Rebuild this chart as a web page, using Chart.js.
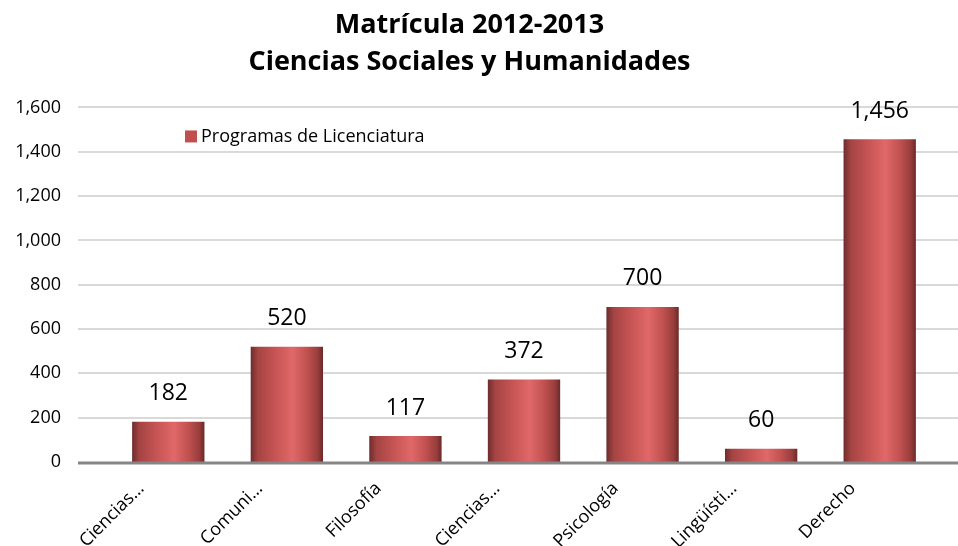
<!DOCTYPE html>
<html>
<head>
<meta charset="utf-8">
<script src="https://cdn.jsdelivr.net/npm/chart.js@4/dist/chart.umd.min.js"></script>
<style>
html, body { margin: 0; padding: 0; background: #fff; }
#wrap { width: 958px; height: 546px; position: relative; }
</style>
</head>
<body>
<div id="wrap"><canvas id="chart"></canvas></div>
<script>
const titleLines = ['Matrícula 2012-2013', 'Ciencias Sociales y Humanidades'];
const seriesName = 'Programas de Licenciatura';
const categories = ['Ciencias…', 'Comuni…', 'Filosofía', 'Ciencias…', 'Psicología', 'Lingüísti…', 'Derecho'];
const enrolment = [182, 520, 117, 372, 700, 60, 1456];
const yMin = 0, yMax = 1600, yStep = 200;

const FONT = '"Open Sans", "Liberation Sans", sans-serif';
const fmt = v => v.toLocaleString('en-US');

// cylinder-like shading across each bar
function barFill(context) {
  const chart = context.chart;
  const x = chart.scales.x;
  if (!chart.chartArea || !x) return '#c0504d';
  const cx = x.getPixelForValue(context.dataIndex);
  const half = (x.width / categories.length) * 0.61 / 2;
  const g = chart.ctx.createLinearGradient(cx - half, 0, cx + half, 0);
  g.addColorStop(0, '#6e2c2c');
  g.addColorStop(0.1, '#a44443');
  g.addColorStop(0.35, '#c85555');
  g.addColorStop(0.58, '#e06868');
  g.addColorStop(0.78, '#c05150');
  g.addColorStop(0.93, '#983d3c');
  g.addColorStop(1, '#6a2929');
  return g;
}

const gridLines = {
  id: 'gridLines',
  beforeDatasetsDraw(chart) {
    const y = chart.scales.y, ctx = chart.ctx;
    ctx.save();
    ctx.strokeStyle = '#d9d9d9';
    ctx.lineWidth = 2;
    y.ticks.forEach(t => {
      if (t.value === 0) return;
      const py = Math.round(y.getPixelForValue(t.value));
      ctx.beginPath();
      ctx.moveTo(chart.chartArea.left - 31, py);
      ctx.lineTo(chart.width, py);
      ctx.stroke();
    });
    ctx.restore();
  },
  afterDatasetsDraw(chart) {
    const y = chart.scales.y, ctx = chart.ctx;
    const py = Math.round(y.getPixelForValue(0)) + 1;
    ctx.save();
    ctx.strokeStyle = '#868686';
    ctx.lineWidth = 3;
    ctx.beginPath();
    ctx.moveTo(chart.chartArea.left - 31, py);
    ctx.lineTo(chart.width, py);
    ctx.stroke();
    ctx.restore();
  }
};

const valueLabels = {
  id: 'valueLabels',
  afterDatasetsDraw(chart) {
    const ctx = chart.ctx;
    const meta = chart.getDatasetMeta(0);
    ctx.save();
    ctx.font = '23px ' + FONT;
    ctx.fillStyle = '#000';
    ctx.textAlign = 'center';
    ctx.textBaseline = 'middle';
    meta.data.forEach((bar, i) => {
      ctx.fillText(fmt(enrolment[i]), bar.x, bar.y - 28);
    });
    ctx.restore();
  }
};

const insideLegend = {
  id: 'insideLegend',
  afterDraw(chart) {
    const ctx = chart.ctx;
    const left = chart.chartArea.left + 76;
    const top = chart.chartArea.top + 23;
    ctx.save();
    ctx.fillStyle = '#c0504d';
    ctx.fillRect(left, top, 12, 12);
    ctx.fillStyle = '#000';
    ctx.font = '18px ' + FONT;
    ctx.textBaseline = 'middle';
    ctx.fillText(chart.data.datasets[0].label, left + 16, top + 6);
    ctx.restore();
  }
};

new Chart(document.getElementById('chart'), {
  type: 'bar',
  data: {
    labels: categories,
    datasets: [{
      label: seriesName,
      data: enrolment,
      backgroundColor: barFill,
      borderWidth: 0,
      categoryPercentage: 1,
      barPercentage: 0.61
    }]
  },
  options: {
    responsive: true,
    maintainAspectRatio: false,
    animation: false,
    layout: { padding: { left: 0, right: 19, top: 0, bottom: 0 } },
    plugins: {
      legend: { display: false },
      tooltip: { enabled: false },
      title: {
        display: true,
        text: titleLines,
        color: '#000',
        font: { family: FONT, size: 27, weight: 'bold', lineHeight: 1.36 },
        padding: { top: 7, bottom: 27 }
      }
    },
    scales: {
      x: {
        grid: { display: false, drawTicks: false },
        border: { display: false },
        ticks: {
          color: '#000',
          font: { family: FONT, size: 18 },
          minRotation: 45,
          maxRotation: 45,
          autoSkip: false,
          labelOffset: -27,
          padding: 16
        },
        afterFit(scale) { scale.height = 84; }
      },
      y: {
        min: yMin,
        max: yMax,
        grid: { display: false, drawTicks: false },
        border: { display: false },
        ticks: {
          stepSize: yStep,
          color: '#000',
          font: { family: FONT, size: 18 },
          padding: 48,
          callback: v => fmt(v)
        },
        afterFit(scale) { scale.width = 109; }
      }
    }
  },
  plugins: [gridLines, valueLabels, insideLegend]
});
</script>
</body>
</html>
